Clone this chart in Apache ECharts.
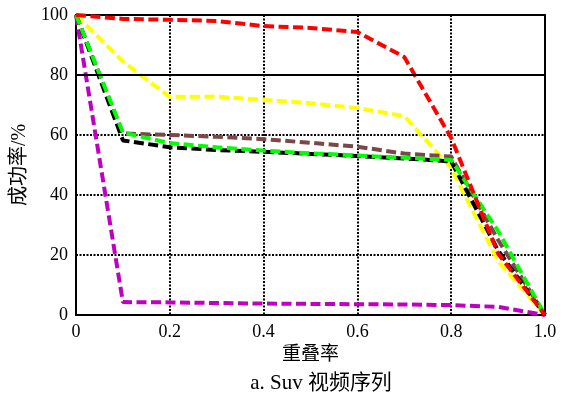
<!DOCTYPE html>
<html>
<head>
<meta charset="utf-8">
<script src="https://cdn.jsdelivr.net/npm/echarts@6/dist/echarts.min.js"></script>
<style>
  html, body { margin: 0; padding: 0; background: #fff; }
  #chart { width: 568px; height: 396px; }
</style>
</head>
<body>
<div id="chart"></div>
<script>
// Overlap rate thresholds (x axis)
const overlap = [0, 0.1, 0.2, 0.3, 0.4, 0.5, 0.6, 0.7, 0.8, 0.9, 1.0];

// Success rate (%) of each tracker at each overlap threshold
const magentaSeries = [100, 4.3, 4.2, 4.0, 3.8, 3.7, 3.6, 3.5, 3.3, 2.7, 0];
const yellowSeries  = [100, 84.5, 72.7, 72.8, 71.7, 70.6, 69.0, 66.3, 49.0, 18.0, 0];
const brownSeries   = [100, 60.5, 60.0, 59.4, 58.6, 57.4, 56.1, 53.8, 52.8, 25.0, 0];
const blackSeries   = [100, 58.2, 55.9, 55.0, 54.4, 53.7, 53.0, 52.2, 51.2, 21.5, 0];
const greenSeries   = [100, 60.8, 57.3, 55.9, 54.8, 53.9, 53.2, 52.4, 51.7, 28.0, 0];
const redSeries     = [100, 98.7, 98.4, 98.0, 96.3, 95.7, 94.3, 86.0, 59.0, 20.5, 0];

const yTicks = [0, 20, 40, 60, 80, 100];

const serif = '"Liberation Serif", "Noto Sans CJK SC", serif';

function pairs(vals) {
  return overlap.map((x, i) => [x, vals[i]]);
}

function dashed(name, color, vals) {
  return {
    name: name,
    type: 'line',
    data: pairs(vals),
    showSymbol: false,
    symbol: 'none',
    lineStyle: { color: color, width: 4, type: [10, 4.5] },
    animation: false
  };
}

const chart = echarts.init(document.getElementById('chart'), null, { renderer: 'canvas' });

const series = [
  dashed('magenta', '#c000c0', magentaSeries),
  dashed('yellow', '#ffff00', yellowSeries),
  dashed('brown', '#7a4848', brownSeries),
  dashed('black', '#000000', blackSeries),
  dashed('green', '#00ff00', greenSeries),
  dashed('red', '#ff0000', redSeries)
];

// solid reference line at 80 %
series.unshift({
  type: 'line',
  data: [],
  markLine: {
    silent: true,
    symbol: 'none',
    label: { show: false },
    lineStyle: { color: '#000', width: 2, type: 'solid' },
    data: [{ yAxis: 80 }]
  },
  animation: false
});

const gridDots = { color: '#000', width: 2, type: [2, 1.5] };

chart.setOption({
  backgroundColor: '#fff',
  animation: false,
  grid: {
    left: 76, right: 23, top: 15, bottom: 81,
    show: true, borderColor: '#000', borderWidth: 2
  },
  title: {
    text: 'a. Suv 视频序列',
    left: 316, top: 368,
    textAlign: 'center',
    textStyle: { fontFamily: serif, fontSize: 21, fontWeight: 'normal', color: '#000' }
  },
  xAxis: {
    type: 'value',
    min: 0, max: 1, interval: 0.2,
    name: '重叠率',
    nameLocation: 'middle',
    nameGap: 31,
    nameTextStyle: { fontFamily: serif, fontSize: 19, color: '#000' },
    axisLine: { show: true, lineStyle: { color: '#000', width: 2 } },
    axisTick: { show: false },
    axisLabel: {
      fontFamily: serif, fontSize: 18, color: '#000', margin: 8,
      formatter: v => (v === 0 ? '0' : v.toFixed(1))
    },
    splitLine: { show: true, lineStyle: gridDots }
  },
  yAxis: {
    type: 'value',
    min: yTicks[0], max: yTicks[yTicks.length - 1], interval: 20,
    name: '成功率/%',
    nameLocation: 'middle',
    nameGap: 44,
    nameRotate: 90,
    nameTextStyle: { fontFamily: serif, fontSize: 20, color: '#000' },
    axisLine: { show: true, lineStyle: { color: '#000', width: 2 } },
    axisTick: { show: false },
    axisLabel: { fontFamily: serif, fontSize: 18, color: '#000', margin: 8 },
    splitLine: { show: true, lineStyle: gridDots }
  },
  series: series
});
</script>
</body>
</html>
